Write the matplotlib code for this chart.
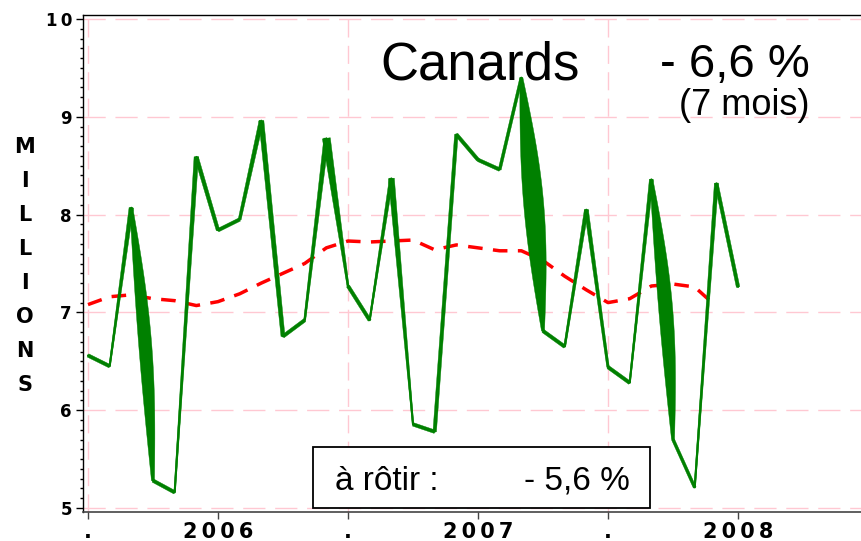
import matplotlib
matplotlib.use("Agg")
import matplotlib.pyplot as plt
import numpy as np
from matplotlib.patches import Rectangle, Polygon
from matplotlib.ticker import MultipleLocator, FixedLocator

plt.rcParams['font.family'] = ['Liberation Sans', 'DejaVu Sans']

# ---- data (monthly, Jul 2005 .. Jan 2008) ----
months = list(range(31))
ducks = [6.56, 6.45, 8.07, 5.28, 5.16, 8.59, 7.84, 7.95, 8.96, 6.755,
         6.92, 8.78, 7.27, 6.92, 8.37, 5.855, 5.78, 8.82, 8.56, 8.46,
         9.40, 6.81, 6.65, 8.05, 6.44, 6.28, 8.36, 5.70, 5.21, 8.32, 7.26]
trend_months = list(range(30))
trend = [7.08, 7.16, 7.18, 7.14, 7.12, 7.07, 7.11, 7.19, 7.30, 7.40,
         7.50, 7.66, 7.73, 7.72, 7.73, 7.74, 7.64, 7.69, 7.66, 7.63,
         7.63, 7.53, 7.37, 7.23, 7.10, 7.14, 7.27, 7.29, 7.26, 7.06]
xtick_pos = [0, 6, 12, 18, 24, 30]
xtick_labels = ['.', '2\u20090\u20090\u20096', '.', '2\u20090\u20090\u20097',
                '.', '2\u20090\u20090\u20098']
xgrid_pos = [0, 12, 24]
ytick_vals = [5, 6, 7, 8, 9, 10]
ytick_labels = ['5', '6', '7', '8', '9', '1\u20090']
ylabel_letters = list("MILLIONS")
title_main = "Canards"
title_pct = "- 6,6 %"
title_sub = "(7 mois)"
box_label = "à rôtir :"
box_pct = "- 5,6 %"

# per-segment pen shape (px): start width, end width, left bulge, right bulge
seg_style = [
    (3.5, 3.5, 0, 0), (1.5, 4.5, 0, 0), (3.0, 3.0, 2, 8), (3.5, 3.5, 0, 0),
    (1.5, 4.5, 0, 0), (4.0, 3.5, 0, 0), (3.5, 3.5, 0, 0), (3.0, 4.5, 0, 0),
    (5.0, 4.0, 0, 0), (3.5, 3.5, 0, 0), (2.0, 5.0, 0, 0), (8.0, 2.0, 0, 0),
    (3.5, 3.5, 0, 0), (1.5, 4.0, 0, 0), (6.0, 1.5, 0, 0), (3.5, 3.5, 0, 0),
    (3.5, 3.5, 0, 0), (3.5, 3.5, 0, 0), (3.5, 3.5, 0, 0), (3.0, 3.0, 0, 0),
    (3.0, 3.0, 7, 10), (3.5, 3.5, 0, 0), (2.0, 4.0, 0, 0), (4.0, 2.5, 0, 0),
    (3.5, 3.5, 0, 0), (1.5, 4.0, 0, 0), (3.0, 3.0, 2, 9), (3.0, 3.0, 0, 0),
    (1.5, 4.0, 0, 0), (3.5, 3.5, 0, 0),
]

W, H = 862, 541
fig = plt.figure(figsize=(W / 100, H / 100), dpi=100)
ax = fig.add_axes([83 / W, 29 / H, 779 / W, 497 / H])
ax.set_xlim(-0.23, 35.72)
ax.set_ylim(4.959, 10.041)

green = '#008000'
pink = '#ffc8d2'
bold_font = ['DejaVu Sans']

# grid
for yv in ytick_vals:
    ax.axhline(yv, color=pink, lw=1.0, dashes=(16, 7), zorder=0)
for xv in xgrid_pos:
    ax.axvline(xv, color=pink, lw=1.0, dashes=(13, 6), zorder=0)

# trend
ax.plot(trend_months, trend, color='#ff0000', lw=2.5, dashes=(4.2, 3.0),
        zorder=3, dash_capstyle='butt')

# base green line
ax.plot(months, ducks, color=green, lw=1.5, solid_joinstyle='round',
        solid_capstyle='round', zorder=4)

# pen-shaped segments
fig.canvas.draw()
tr = ax.transData
inv = tr.inverted()
pts = tr.transform(np.column_stack([months, ducks]))
t = np.linspace(0, 1, 40)
for i, (w0, w1, bl, br) in enumerate(seg_style):
    p0, p1 = pts[i], pts[i + 1]
    d = p1 - p0
    L = np.hypot(*d)
    u = d / L
    nrm = np.array([-u[1], u[0]])
    if nrm[0] < 0:
        nrm = -nrm
    w = (w0 + (w1 - w0) * t) / 2
    bump = np.sin(np.pi * t)
    base = p0[None, :] + t[:, None] * d[None, :]
    right = base + nrm[None, :] * (w + br * bump)[:, None]
    left = base - nrm[None, :] * (w + bl * bump)[:, None]
    poly = np.vstack([right, left[::-1]])
    ax.add_patch(Polygon(inv.transform(poly), closed=True, facecolor=green,
                         edgecolor=green, lw=0.3, zorder=4))

# spines / ticks
ax.spines['right'].set_visible(False)
for s in ['top', 'left']:
    ax.spines[s].set_color('black')
    ax.spines[s].set_linewidth(1.0)
ax.spines['bottom'].set_color('#444444')
ax.spines['bottom'].set_linewidth(1.2)

ax.yaxis.set_major_locator(FixedLocator(ytick_vals))
ax.set_yticklabels(ytick_labels, fontsize=12, fontweight='bold', family=bold_font)
ax.yaxis.set_minor_locator(MultipleLocator(0.1))
ax.tick_params(axis='y', which='major', length=5, width=1, pad=3, direction='out')
ax.tick_params(axis='y', which='minor', length=2.5, width=1, direction='out')

ax.xaxis.set_major_locator(FixedLocator(xtick_pos))
ax.set_xticklabels(xtick_labels, fontsize=15, fontweight='bold', family=bold_font)
ax.tick_params(axis='x', which='major', length=5, width=1, pad=2,
               direction='out', color='#444444')

# y label stacked letters
for k, ch in enumerate(ylabel_letters):
    fig.text(25 / W, 1 - (146.7 + 34 * k) / H, ch, fontsize=15,
             fontweight='bold', family=bold_font, ha='center', va='center')

# titles
fig.text(380 / W, 1 - 80 / H, title_main, fontsize=38, ha='left', va='baseline')
fig.text(810 / W, 1 - 77 / H, title_pct, fontsize=34, ha='right', va='baseline')
fig.text(810 / W, 1 - 115 / H, title_sub, fontsize=26, ha='right', va='baseline')

# box
rect = Rectangle((313 / W, 1 - 508 / H), (650 - 313) / W, (508 - 447) / H,
                 transform=fig.transFigure, facecolor='white', edgecolor='black',
                 lw=1.3, zorder=10)
fig.patches.append(rect)
fig.text(335 / W, 1 - 490 / H, box_label, fontsize=24, ha='left',
         va='baseline', zorder=11)
fig.text(630 / W, 1 - 490 / H, box_pct, fontsize=24, ha='right',
         va='baseline', zorder=11)

fig.savefig('out.png', dpi=100)
